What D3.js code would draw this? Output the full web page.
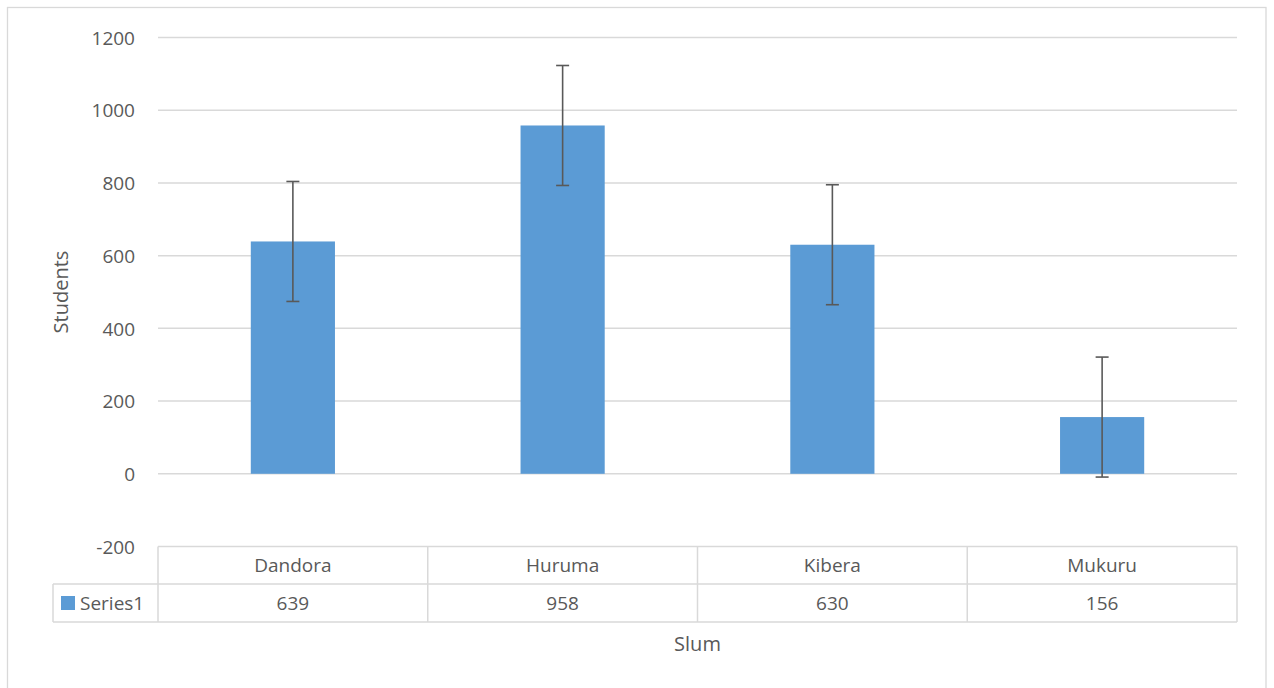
<!DOCTYPE html>
<html><head><meta charset="utf-8">
<script src="https://cdn.jsdelivr.net/npm/d3@7"></script>
<style>body{margin:0;background:#fff}svg{display:block}text{font-family:"Open Sans","Noto Sans",sans-serif;fill:#595959}</style>
</head><body>
<svg id="c" width="1274" height="688"></svg>
<script>
const categories = ["Dandora","Huruma","Kibera","Mukuru"];
const values = [639,958,630,156];
const errors = [165,165,165,165];
const yTicks = [-200,0,200,400,600,800,1000,1200];
const seriesName = "Series1";
const xTitle = "Slum";
const yTitle = "Students";

const svg = d3.select("#c");
const L=158,R=1237,T=37.5,B=546.5;
svg.append("rect").attr("x",7.5).attr("y",7.5).attr("width",1258.5).attr("height",700).attr("fill","none").attr("stroke","#d9d9d9").attr("stroke-width",1.3);

const x = d3.scaleBand().domain(categories).range([L,R]).paddingInner(0).paddingOuter(0);
const y = d3.scaleLinear().domain([-200,1200]).range([B,T]);

// gridlines
svg.append("g").selectAll("line").data(yTicks.filter(d=>d>-200)).join("line")
  .attr("x1",L).attr("x2",R).attr("y1",d=>y(d)).attr("y2",d=>y(d))
  .attr("stroke","#d9d9d9").attr("stroke-width",1.5);

// y axis labels
const yAxis = d3.axisLeft(y).tickValues(yTicks).tickSize(0).tickPadding(0).tickFormat(d=>String(d));
const gy = svg.append("g").attr("transform",`translate(135,0)`).call(yAxis);
gy.select(".domain").remove();
gy.selectAll("text").style("font-size","19px").attr("fill","#595959").attr("dy","0.35em");

// bars
const bw = x.bandwidth()*0.312;
svg.append("g").selectAll("rect").data(values).join("rect")
  .attr("x",(d,i)=>x(categories[i])+x.bandwidth()/2-bw/2)
  .attr("width",bw)
  .attr("y",d=>y(d)).attr("height",d=>y(0)-y(d))
  .attr("fill","#5b9bd5");

// error bars
const eg = svg.append("g").attr("stroke","#595959").attr("stroke-width",1.6);
values.forEach((v,i)=>{
  const cx = x(categories[i])+x.bandwidth()/2;
  eg.append("line").attr("x1",cx).attr("x2",cx).attr("y1",y(v+errors[i])).attr("y2",y(v-errors[i]));
  eg.append("line").attr("x1",cx-6.5).attr("x2",cx+6.5).attr("y1",y(v+errors[i])).attr("y2",y(v+errors[i]));
  eg.append("line").attr("x1",cx-6.5).attr("x2",cx+6.5).attr("y1",y(v-errors[i])).attr("y2",y(v-errors[i]));
});

// data table
const rowTop=B, row1=584, row2=622, legL=53;
const tg = svg.append("g").attr("stroke","#d9d9d9").attr("stroke-width",1.5).attr("fill","none");
tg.append("line").attr("x1",L).attr("x2",R).attr("y1",rowTop).attr("y2",rowTop);
tg.append("line").attr("x1",legL).attr("x2",R).attr("y1",row1).attr("y2",row1);
tg.append("line").attr("x1",legL).attr("x2",R).attr("y1",row2).attr("y2",row2);
tg.append("line").attr("x1",legL).attr("x2",legL).attr("y1",row1).attr("y2",row2);
categories.concat(["_end"]).forEach((c,i)=>{
  const xx = i<categories.length ? x(c) : R;
  tg.append("line").attr("x1",xx).attr("x2",xx).attr("y1",rowTop).attr("y2",row2);
});
svg.append("g").selectAll("text").data(categories).join("text")
  .attr("x",d=>x(d)+x.bandwidth()/2).attr("y",(rowTop+row1)/2).attr("dy","0.35em")
  .attr("text-anchor","middle").style("font-size","19px").text(d=>d);
svg.append("g").selectAll("text").data(values).join("text")
  .attr("x",(d,i)=>x(categories[i])+x.bandwidth()/2).attr("y",(row1+row2)/2).attr("dy","0.35em")
  .attr("text-anchor","middle").style("font-size","19px").text(d=>d);
svg.append("rect").attr("x",61).attr("y",596).attr("width",14).attr("height",14).attr("fill","#5b9bd5");
svg.append("text").attr("x",80).attr("y",(row1+row2)/2).attr("dy","0.35em").style("font-size","19px").text(seriesName);

// titles
svg.append("text").attr("x",(L+R)/2).attr("y",644).attr("dy","0.35em").attr("text-anchor","middle").style("font-size","20px").text(xTitle);
svg.append("text").attr("transform",`translate(61,${(T+B)/2}) rotate(-90)`).attr("dy","0.35em").attr("text-anchor","middle").style("font-size","20px").text(yTitle);
</script>
</body></html>
